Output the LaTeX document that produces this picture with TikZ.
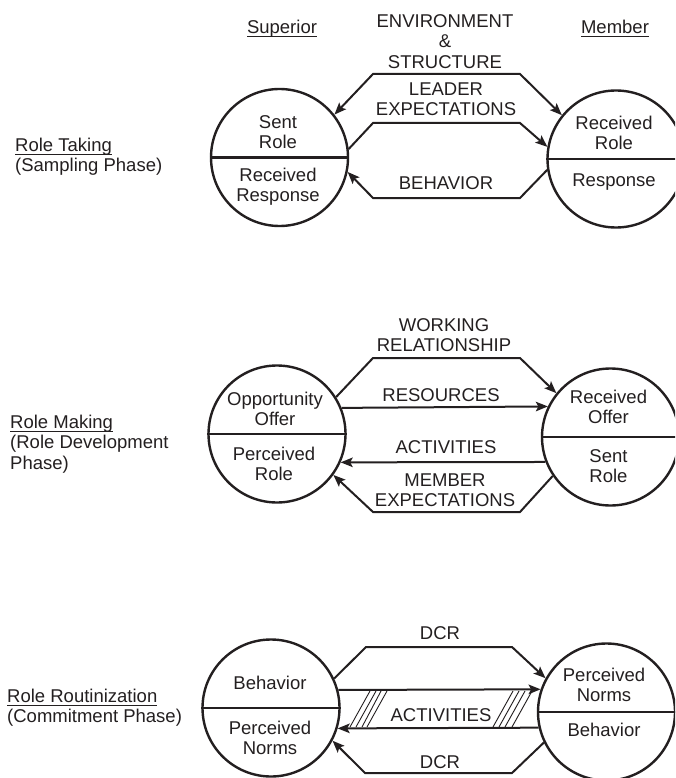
\documentclass[tikz,border=0pt]{standalone}
\usepackage{fontspec}
\setmainfont{Liberation Sans}
\usetikzlibrary{arrows.meta}
\definecolor{ink}{RGB}{35,31,32}
\newsavebox\ulbox
\newcommand\ulin[1]{\sbox\ulbox{#1}\rlap{\rule[-3.6pt]{\wd\ulbox}{1.1pt}}\usebox\ulbox}
\tikzset{
  role/.style={circle, draw=ink, line width=2.4pt, minimum size=137pt, inner sep=0pt},
  divider/.style={draw=ink, line width=2.4pt},
  conn/.style={draw=ink, line width=2pt, line join=miter},
  hatch/.style={draw=ink, line width=0.9pt},
  tipb/.tip={Stealth[length=12pt,width=9.5pt,inset=2.5pt]},
  txt/.style={font=\fontsize{18.5}{20.5}\selectfont, text=ink, align=center, inner sep=0pt, anchor=base},
  side/.style={font=\fontsize{18.5}{20.5}\selectfont, text=ink, align=left, inner sep=0pt, anchor=base west},
}
\begin{document}
\begin{tikzpicture}[x=1pt,y=-1pt]
\useasboundingbox (0,0) rectangle (675,778);
\begin{scope}
\clip (0,0) rectangle (675,778);
% ---------- headers
\node[txt] (sup) at (282,33.4) {\ulin{Superior}};
\node[txt] (mem) at (615,33.4) {\ulin{Member}};
% ---------- row 1: role taking
\node[side] (rt) at (15,171.9) {\ulin{Role Taking}\\(Sampling Phase)};
\node[role] (L1) at (279.5,157.5) {};
\node[role] (R1) at (616,159) {};
\draw[divider] (L1.west) -- (L1.east);
\draw[divider] (R1.west) -- (R1.east);
\node[txt] (l1a) at (278,148.9) {Sent\\Role};
\node[txt] (l1b) at (278,201.9) {Received\\Response};
\node[txt] (r1a) at (614,149.9) {Received\\Role};
\node[txt] (r1b) at (614,186.4) {Response};
\coordinate (e1) at (373,74);
\coordinate (e2) at (520,74);
\coordinate (x1) at (373,123);
\coordinate (x2) at (520,123);
\coordinate (b1) at (520,198);
\coordinate (b2) at (373,198);
\draw[conn, {tipb}-{tipb}] (L1.38) -- (e1) -- (e2) -- (R1.141.5);
\draw[conn, -{tipb}] (L1.7.7) -- (x1) -- (x2) -- (R1.170);
\draw[conn, -{tipb}] (R1.189) -- (b1) -- (b2) -- (L1.-12.8);
\node[txt] (env) at (445,68.2) {ENVIRONMENT\\\&\\STRUCTURE};
\node[txt] (lex) at (446,115.9) {LEADER\\EXPECTATIONS};
\node[txt] (beh) at (446,189.4) {BEHAVIOR};
% ---------- row 2: role making
\node[side] (rm) at (10,469.4) {\ulin{Role Making}\\(Role Development\\Phase)};
\node[role] (L2) at (277,434) {};
\node[role] (R2) at (610.5,437) {};
\draw[divider] (L2.west) -- (L2.east);
\draw[divider] (R2.west) -- (R2.east);
\node[txt] (l2a) at (275,425.9) {Opportunity\\Offer};
\node[txt] (l2b) at (274,480.9) {Perceived\\Role};
\node[txt] (r2a) at (608.5,423.9) {Received\\Offer};
\node[txt] (r2b) at (608.5,482.9) {Sent\\Role};
\coordinate (w1) at (373,358);
\coordinate (w2) at (520,358);
\coordinate (m1) at (520,512);
\coordinate (m2) at (373,512);
\draw[conn, -{tipb}] (L2.32.5) -- (w1) -- (w2) -- (R2.141.6);
\draw[conn, -{tipb}] (L2.22.5) -- (R2.154.95);
\draw[conn, -{tipb}] (R2.201.4) -- (L2.-24.1);
\draw[conn, -{tipb}] (R2.214) -- (m1) -- (m2) -- (L2.-36);
\node[txt] (wr) at (444,351.9) {WORKING\\RELATIONSHIP};
\node[txt] (res) at (441,401.4) {RESOURCES};
\node[txt] (act2) at (446,453.4) {ACTIVITIES};
\node[txt] (mex) at (445,506.9) {MEMBER\\EXPECTATIONS};
% ---------- row 3: role routinization
\node[side] (rr) at (7,722.9) {\ulin{Role Routinization}\\(Commitment Phase)};
\node[role] (L3) at (271,708) {};
\node[role] (R3) at (606.5,712) {};
\draw[divider] (L3.west) -- (L3.east);
\draw[divider] (R3.west) -- (R3.east);
\node[txt] (l3a) at (270,689.4) {Behavior};
\node[txt] (l3b) at (270,754.9) {Perceived\\Norms};
\node[txt] (r3a) at (604,701.9) {Perceived\\Norms};
\node[txt] (r3b) at (604,736.4) {Behavior};
\coordinate (d1) at (366,647);
\coordinate (d2) at (512,647);
\coordinate (d3) at (512,773);
\coordinate (d4) at (365,773);
\draw[conn, -{tipb}] (L3.25) -- (d1) -- (d2) -- (R3.151.8);
\draw[conn, -{tipb}] (L3.15.2) -- (R3.161.3);
\draw[conn, -{tipb}] (R3.193.5) -- (L3.-17);
\draw[conn, -{tipb}] (R3.206) -- (d3) -- (d4) -- (L3.-28.7);
\foreach \a/\b in {350/370,356/376,362/381,367/387,493/513,499/519,505/525,512/532}
  \draw[hatch] (\a,727) -- (\b,691);
\node[txt] (dcr1) at (440,639.4) {DCR};
\node[txt] (act3) at (441,721) {ACTIVITIES};
\node[txt] (dcr2) at (440,768.4) {DCR};
\end{scope}
\end{tikzpicture}
\end{document}
